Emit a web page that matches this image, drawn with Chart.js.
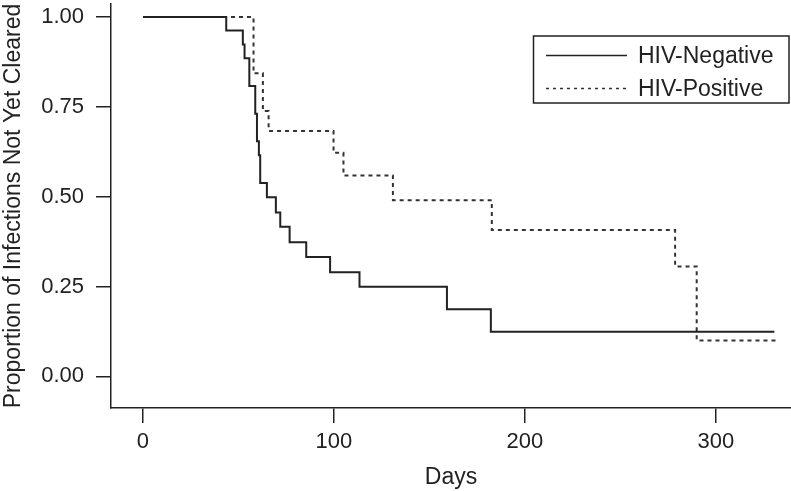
<!DOCTYPE html>
<html>
<head>
<meta charset="utf-8">
<script src="https://cdn.jsdelivr.net/npm/chart.js@4"></script>
<style>
  html, body { margin: 0; padding: 0; background: #fff; }
  #wrap { width: 791px; height: 491px; position: relative; }
</style>
</head>
<body>
<div id="wrap"><canvas id="grafico" width="791" height="491"></canvas></div>
<script>
// Kaplan-Meier curves: day of each step, proportion after the step
const negDays = [0, 43.6, 52.3, 53.2, 55.7, 58.8, 59.7, 60.7, 61.4, 64.9, 69.6, 71.9, 76.8, 85.5, 98, 113.4, 159.2, 182.2, 330.7];
const negProp = [1.0, 0.962, 0.923, 0.885, 0.808, 0.731, 0.654, 0.615, 0.538, 0.498, 0.456, 0.416, 0.373, 0.332, 0.290, 0.249, 0.187, 0.124, 0.124];

const posDays = [0, 57.9, 62.8, 65.8, 99.8, 105, 130.9, 182.7, 278.7, 290, 332.5];
const posProp = [1.0, 0.843, 0.738, 0.683, 0.622, 0.559, 0.490, 0.407, 0.306, 0.100, 0.100];

const xTicks = [0, 100, 200, 300];
const yTicks = [0, 0.25, 0.5, 0.75, 1.0];
const yTickLabels = ['0.00', '0.25', '0.50', '0.75', '1.00'];

const FONT = '"Liberation Sans", Arial, Helvetica, sans-serif';
const INK = '#222';

function toPoints(xs, ys) {
    return xs.map((x, i) => ({ x: x, y: ys[i] }));
}

// legend drawn inside the plot, boxed like the original
const legendBox = {
    id: 'legendBox',
    afterDraw(chart) {
        const ctx = chart.ctx;
        const left = 533.5, top = 36, right = 789, bottom = 103;
        const rows = [55.5, 88.5];
        ctx.save();
        ctx.strokeStyle = INK;
        ctx.lineWidth = 1.5;
        ctx.strokeRect(left, top, right - left, bottom - top);
        chart.data.datasets.forEach((ds, i) => {
            ctx.beginPath();
            ctx.strokeStyle = ds.borderColor;
            ctx.lineWidth = 1.5;
            ctx.setLineDash(i === 1 ? [3, 4] : []);
            ctx.moveTo(546, rows[i]);
            ctx.lineTo(627, rows[i]);
            ctx.stroke();
            ctx.setLineDash([]);
            ctx.fillStyle = INK;
            ctx.font = '23px ' + FONT;
            ctx.textBaseline = 'middle';
            ctx.textAlign = 'left';
            ctx.fillText(ds.label, 638, rows[i] + 1);
        });
        ctx.restore();
    }
};

const axisGrid = {
    drawOnChartArea: false,
    drawTicks: true,
    tickLength: 15,
    color: INK,
    lineWidth: 1.5
};

new Chart(document.getElementById('grafico').getContext('2d'), {
    type: 'scatter',
    data: {
        datasets: [{
            label: 'HIV-Negative',
            data: toPoints(negDays, negProp),
            showLine: true,
            stepped: true,
            borderColor: '#222',
            borderWidth: 2,
            pointRadius: 0,
            fill: false
        }, {
            label: 'HIV-Positive',
            data: toPoints(posDays, posProp),
            showLine: true,
            stepped: true,
            borderColor: '#333',
            borderWidth: 2,
            borderDash: [4, 4],
            pointRadius: 0,
            fill: false
        }]
    },
    options: {
        responsive: false,
        animation: false,
        layout: { padding: { top: 4, right: 0, left: 0, bottom: 0 } },
        plugins: {
            legend: { display: false },
            tooltip: { enabled: false }
        },
        scales: {
            x: {
                type: 'linear',
                min: -16.75,
                max: 339.4,
                afterBuildTicks: s => { s.ticks = xTicks.map(v => ({ value: v })); },
                afterFit: s => {
                    s.height = 83;
                    s.paddingLeft = 0;
                    s.paddingRight = 0;
                },
                grid: axisGrid,
                border: { display: true, color: INK, width: 1.5 },
                ticks: {
                    color: INK,
                    font: { family: FONT, size: 22 },
                    padding: 6,
                    maxRotation: 0
                },
                title: {
                    display: true,
                    text: 'Days',
                    color: INK,
                    font: { family: FONT, size: 23 },
                    padding: { top: 0, bottom: 0 }
                }
            },
            y: {
                type: 'linear',
                min: -0.088,
                max: 1.036,
                afterBuildTicks: s => { s.ticks = yTicks.map(v => ({ value: v })); },
                afterFit: s => {
                    s.width = 111;
                    s.paddingTop = 0;
                    s.paddingBottom = 0;
                },
                grid: axisGrid,
                border: { display: true, color: INK, width: 1.5 },
                ticks: {
                    color: INK,
                    font: { family: FONT, size: 22 },
                    padding: 12,
                    callback: (v) => {
                        const i = yTicks.indexOf(v);
                        return i >= 0 ? yTickLabels[i] : '';
                    }
                },
                title: {
                    display: true,
                    text: 'Proportion of Infections Not Yet Cleared',
                    color: INK,
                    font: { family: FONT, size: 23 },
                    padding: { top: 0, bottom: 0 }
                }
            }
        }
    },
    plugins: [legendBox]
});
</script>
</body>
</html>
